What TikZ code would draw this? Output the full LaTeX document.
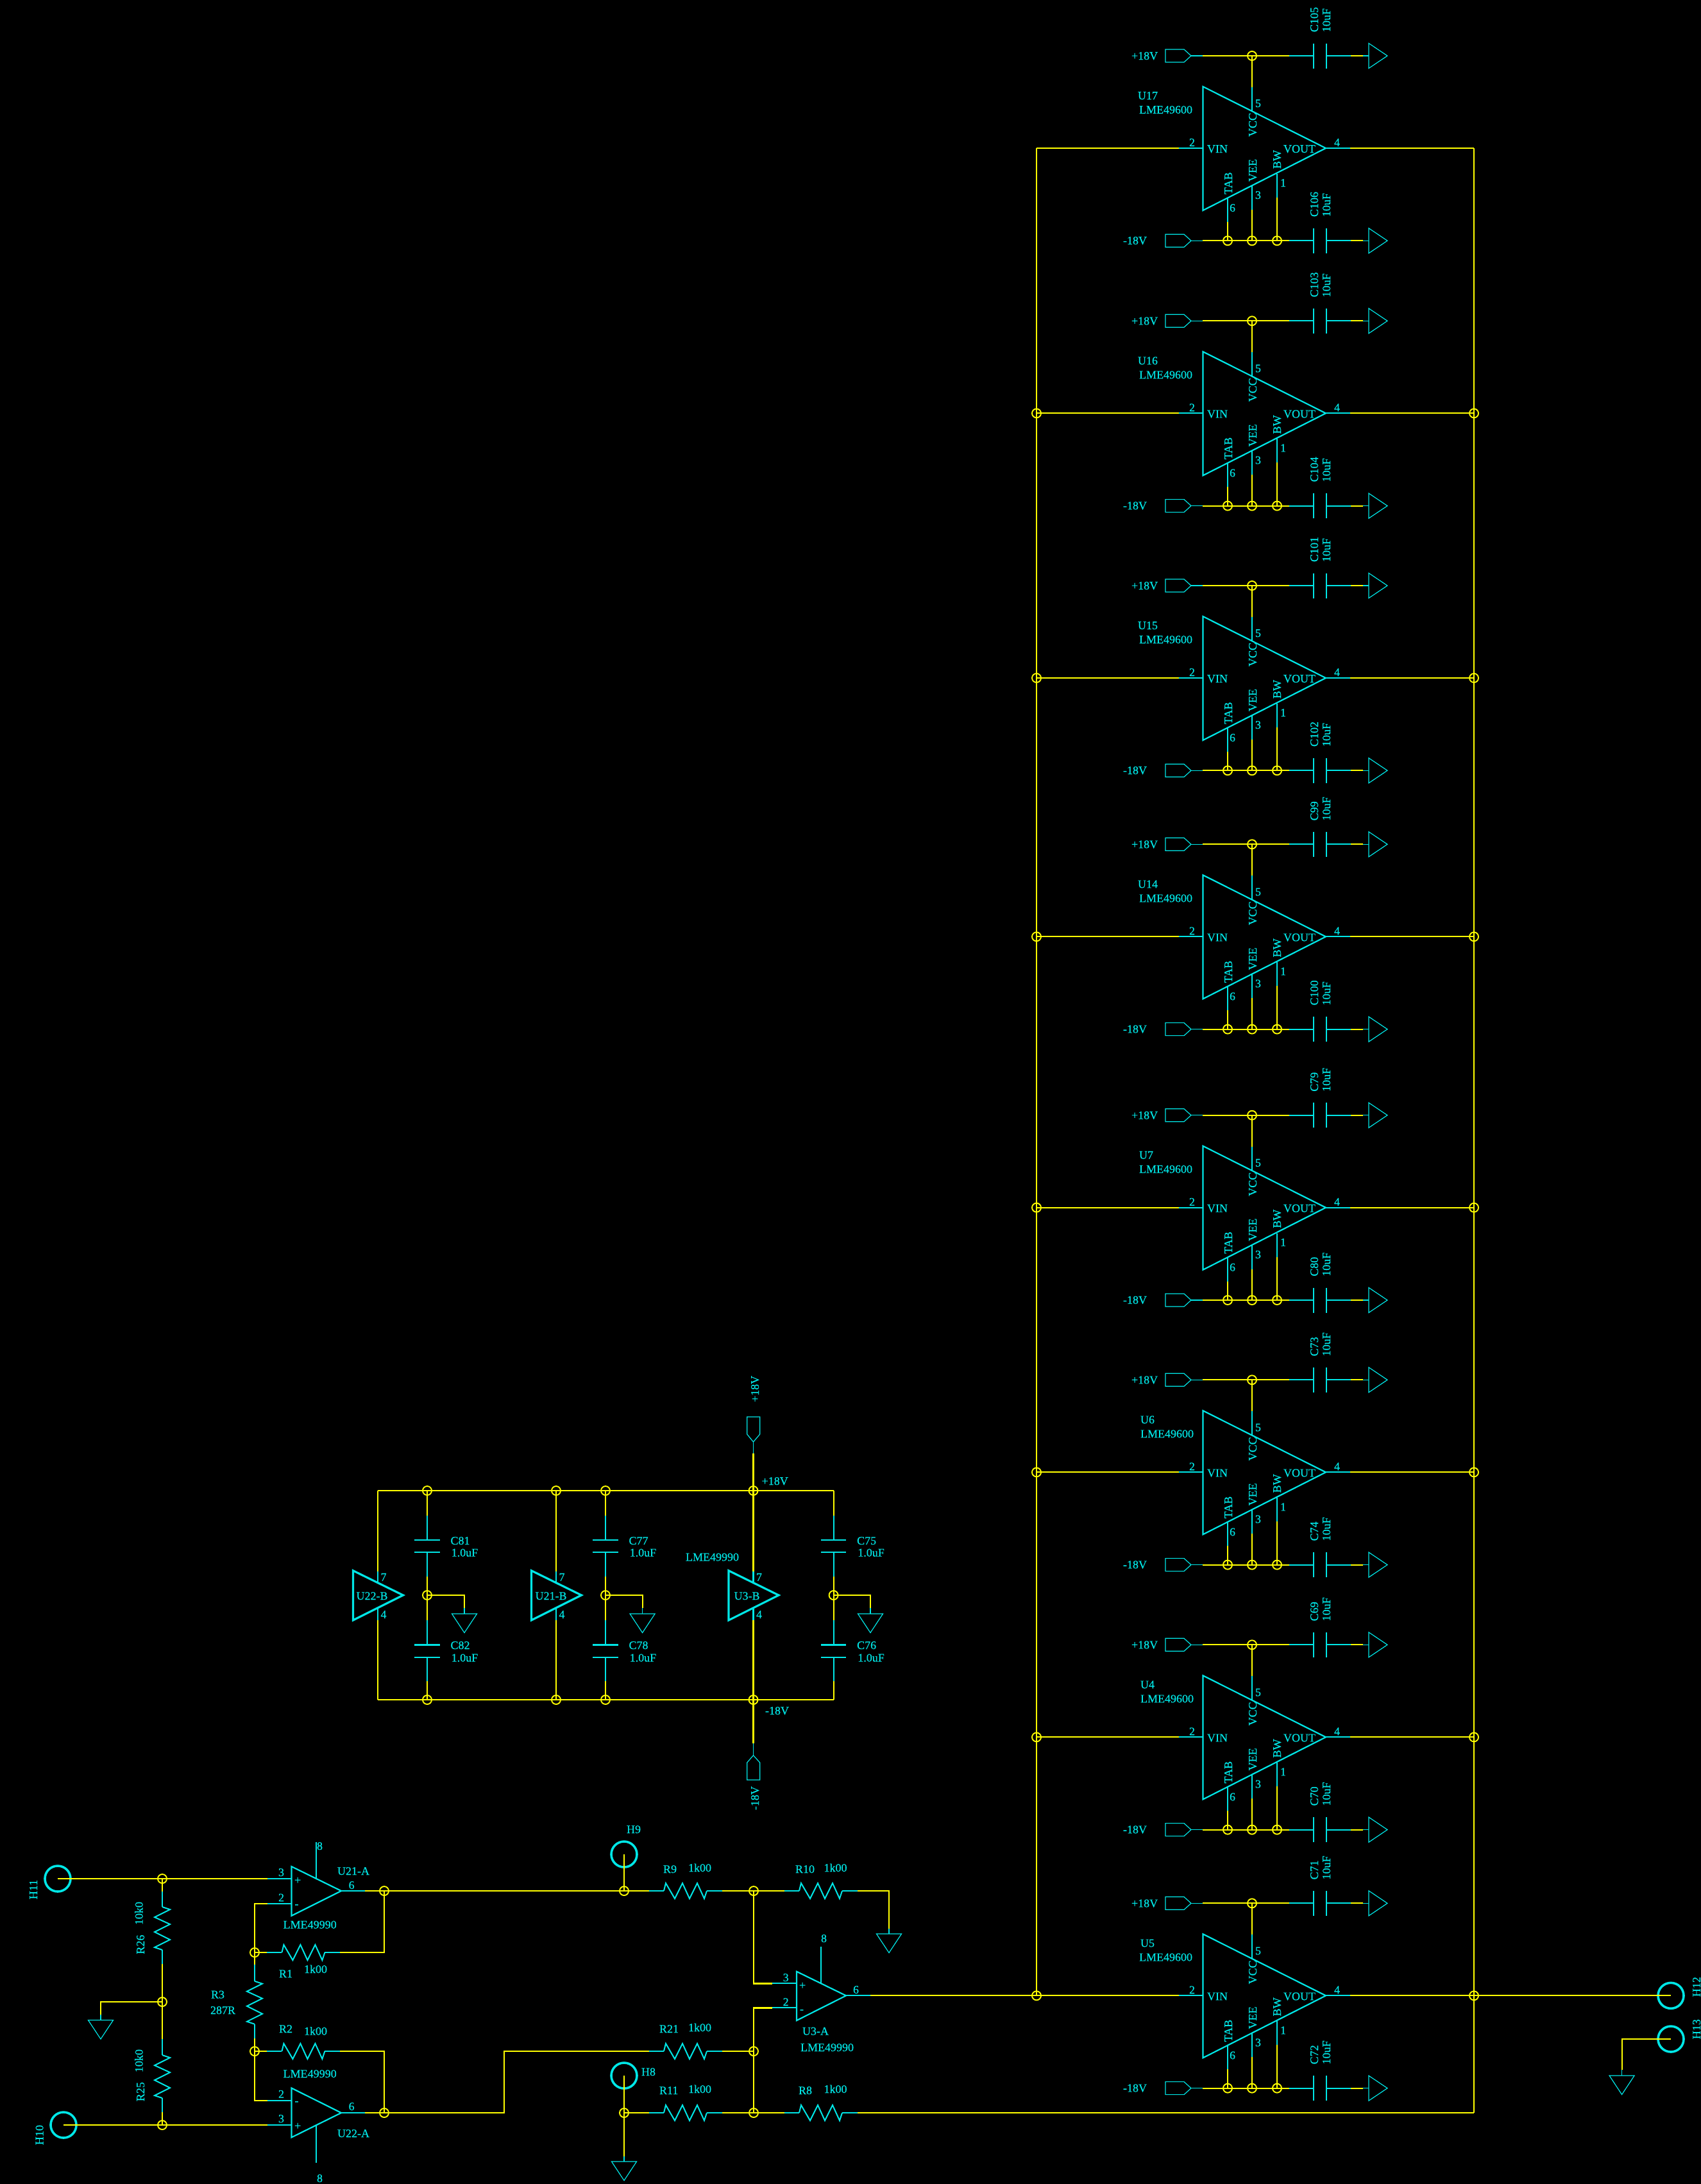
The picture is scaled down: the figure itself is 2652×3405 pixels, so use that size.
\documentclass[tikz,border=0pt]{standalone}
\usepackage{fontspec}
\setmainfont[FakeBold=0.35]{Liberation Serif}
\definecolor{cy}{HTML}{00E6E6}
\definecolor{yw}{HTML}{FFFF00}
\newcounter{tc}
\tikzset{
  txt/.style={text=cy,inner sep=0pt,outer sep=0pt,anchor=base west,font=\fontsize{18}{20}\selectfont},
  wire/.style={draw=yw,line width=2.2pt},
  lead/.style={draw=cy,line width=2.1pt},
  thinl/.style={draw=cy,line width=1.2pt},
  amp/.style={draw=cy,line width=2.2pt,line join=miter},
  ampb/.style={draw=cy,line width=3.2pt,line join=miter},
  hole/.style={circle,draw=cy,line width=3.6pt,minimum size=40pt,inner sep=0pt,outer sep=0pt},
  junc/.style={circle,draw=yw,line width=1.9pt,minimum size=14pt,inner sep=0pt,outer sep=0pt},
}
% text helpers
\newcommand\lbl[3]{\stepcounter{tc}\node[txt] (t\arabic{tc}) at (#1,#2) {#3};}
\newcommand\rlbl[3]{\stepcounter{tc}\node[txt,rotate=90] (t\arabic{tc}) at (#1,#2) {#3};}
% ground pointing down, apex 29.5 below (#1) where (#1) is top-bar centre
\newcommand\gndD[3]{\coordinate (#1) at (#2,#3);
  \draw[thinl] (#2-19.5,#3) -- (#2+19.5,#3) -- (#2,#3+29.5) -- cycle;}
% horizontal resistor
\newcommand\resH[3]{\coordinate (#1A) at (#2,#3);\coordinate (#1B) at (#2+67,#3);
  \draw[lead,line width=2pt] (#1A) -- (#2+3,#3-12) -- (#2+17,#3+12) -- (#2+29,#3-12) -- (#2+40,#3+12) -- (#2+52,#3-12) -- (#2+63,#3+12) -- (#1B);}
% vertical resistor
\newcommand\resV[3]{\coordinate (#1A) at (#2,#3);\coordinate (#1B) at (#2,#3+67);
  \draw[lead,line width=2pt] (#1A) -- (#2+12,#3+4) -- (#2-12,#3+16) -- (#2+12,#3+27) -- (#2-12,#3+39) -- (#2+12,#3+51) -- (#2-12,#3+63) -- (#1B);}
% horizontal resistor with its leads and yellow stubs
\newcommand\resWire[4]{% id, x of body, y, label is separate
  \resH{#1}{#2}{#3}
  \coordinate (#1L) at (#2-23,#3);\coordinate (#1R) at (#2+91,#3);
  \draw[lead] (#1L) -- (#1A) (#1B) -- (#1R);}
% supply rail of a power amp, y relative to scope
\newcommand\supplyrail[2]{% id, y
  \draw[thinl] (1817,#2-10) -- (1846,#2-10) -- (1857,#2) -- (1846,#2+10) -- (1817,#2+10) -- cycle;
  \coordinate (#1p) at (1857,#2);\coordinate (#1a) at (1875,#2);\coordinate (#1b) at (2010,#2);
  \coordinate (#1c) at (2048,#2);\coordinate (#1d) at (2068,#2);\coordinate (#1e) at (2106,#2);
  \coordinate (#1f) at (2125,#2);\coordinate (#1g) at (2134,#2);
  \draw[thinl] (#1p) -- (#1a);
  \draw[wire] (#1a) -- (#1b);
  \draw[lead] (#1b) -- (#1c);
  \draw[lead] (2048,#2-19.5) -- (2048,#2+19.5);
  \draw[lead] (2068,#2-19.5) -- (2068,#2+19.5);
  \draw[lead] (#1d) -- (#1e);
  \draw[wire] (#1e) -- (#1f);
  \draw[thinl] (#1f) -- (#1g);
  \draw[thinl] (2134,#2-19.5) -- (2163,#2) -- (2134,#2+19.5) -- cycle;
}
% power amplifier block
\newcommand\ampblock[7]{% id, Y, U name, Ctop, Cbot, x of U label
\begin{scope}[shift={(0,#2)}]
  \supplyrail{#1t}{-144}
  \supplyrail{#1b}{144.3}
  \coordinate (#1jv) at (1952,-144);
  \coordinate (#1j1) at (1914,144.3);\coordinate (#1j2) at (1952,144.3);\coordinate (#1j3) at (1991,144.3);
  \draw[amp] (1875.5,-96) -- (2067,0) -- (1875.5,97) -- cycle;
  \coordinate (#1L) at (1616,0);\coordinate (#1R) at (2298,0);
  \coordinate (#1il) at (1837.5,0);\coordinate (#1in) at (1875.5,0);
  \coordinate (#1ot) at (2067,0);\coordinate (#1ol) at (2105,0);
  \draw[wire] (#1L) -- (#1il);\draw[lead] (#1il) -- (#1in);
  \draw[lead] (#1ot) -- (#1ol);\draw[wire] (#1ol) -- (#1R);
  \draw[wire] (#1jv) -- (1952,-95);\draw[lead] (1952,-95) -- (1952,-57);
  \draw[lead] (1914,77) -- (1914,115);\draw[wire] (1914,115) -- (#1j1);
  \draw[lead] (1952,58) -- (1952,96);\draw[wire] (1952,96) -- (#1j2);
  \draw[lead] (1991,40) -- (1991,77);\draw[wire] (1991,77) -- (#1j3);
  \rlbl{1959}{-18}{VCC}\rlbl{1959}{52}{VEE}\rlbl{1997}{32}{BW}\rlbl{1921}{72}{TAB}
  \lbl{1882}{7}{VIN}\lbl{2001}{7}{VOUT}
  \lbl{1854}{-3}{2}\lbl{2080}{-3}{4}\lbl{1957}{-64}{5}\lbl{1996}{60}{1}\lbl{1957}{79}{3}\lbl{1917}{99}{6}
  \lbl{#6}{-76}{#3}\lbl{#7}{-54}{LME49600}
  \lbl{1764}{-138}{+18V}\lbl{1751}{150}{-18V}
  \rlbl{2055}{-181}{#4}\rlbl{2074}{-181}{10uF}
  \rlbl{2055}{107}{#5}\rlbl{2074}{107}{10uF}
\end{scope}}
% decoupling column: id, x, gnd x
\newcommand\decoup[7]{% id,x,gndx,Ctop,Cbot
  \coordinate (#1t) at (#2,2324);\coordinate (#1m) at (#2,2487);\coordinate (#1b) at (#2,2650);
  \draw[wire,line width=2pt] (#1t) -- (#2,2363);\draw[lead] (#2,2363) -- (#2,2401);
  \draw[lead] (#2-19.8,2401) -- (#2+19.8,2401);\draw[lead] (#2-19.8,2420) -- (#2+19.8,2420);
  \draw[lead] (#2,2420) -- (#2,2458);\draw[wire,line width=2pt] (#2,2458) -- (#1m) -- (#2,2525.5);
  \draw[lead] (#2,2525.5) -- (#2,2564.5);
  \draw[lead] (#2-19.8,2564.5) -- (#2+19.8,2564.5);\draw[lead] (#2-19.8,2583.6) -- (#2+19.8,2583.6);
  \draw[lead] (#2,2583.6) -- (#2,2621);\draw[wire,line width=2pt] (#2,2621) -- (#1b);
  \gndD{#1g}{#3}{2516}
  \draw[wire] (#1m) -| (#3,2507);\draw[thinl] (#3,2507) -- (#1g);
  \lbl{#2+36.5}{2408}{#4}\lbl{#2+37.7}{2426.6}{1.0uF}
  \lbl{#2+36.5}{2571}{#5}\lbl{#2+37.7}{2590.5}{1.0uF}
}
% second op-amp section: id, wire x, name, name x
\newcommand\opB[4]{%
  \draw[ampb] (#2-38.5,2448.7) -- (#2+39.5,2487) -- (#2-38.5,2526) -- cycle;
  \draw[wire] (#1top) -- (#2,2450);\draw[lead] (#2,2450) -- (#2,2467);
  \draw[lead] (#2,2507) -- (#2,2525.5);\draw[wire] (#2,2525.5) -- (#1bot);
  \lbl{#2+4.5}{2464.7}{7}\lbl{#2+4.5}{2523}{4}
  \lbl{#4}{2494}{#3}
}
\begin{document}
\begin{tikzpicture}[x=1pt,y=-1pt]
\fill[black] (0,0) rectangle (2652,3405);
\useasboundingbox (0,0) rectangle (2652,3405);

% ---- power amplifiers
\ampblock{ua}{231}{U17}{C105}{C106}{1774}{1776}
\ampblock{ub}{644.3}{U16}{C103}{C104}{1774}{1776}
\ampblock{uc}{1057}{U15}{C101}{C102}{1774}{1776}
\ampblock{ud}{1460.3}{U14}{C99}{C100}{1774}{1776}
\ampblock{ue}{1882.7}{U7}{C79}{C80}{1776}{1776}
\ampblock{uf}{2295.3}{U6}{C73}{C74}{1778}{1778}
\ampblock{ug}{2708.3}{U4}{C69}{C70}{1778}{1778}
\ampblock{uh}{3111.3}{U5}{C71}{C72}{1778}{1776}
\coordinate (cornerR) at (2298,3294);
\draw[wire] (uaL) -- (uhL);
\draw[wire] (uaR) -- (cornerR);

% ---- outputs
\node[hole] (h12) at (2605,3111.3) {};
\node[hole] (h13) at (2605,3179) {};
\rlbl{2651}{3113}{H12}\rlbl{2651}{3179}{H13}
\draw[wire] (uhR) -- (h12.center);
\gndD{g13}{2528.6}{3236}
\draw[wire] (h13.center) -| (2528.6,3227);\draw[thinl] (2528.6,3227) -- (g13);

% ---- supply section
\coordinate (railTL) at (589,2324);\coordinate (railTR) at (1299.6,2324);
\coordinate (railBL) at (589,2650);\coordinate (railBR) at (1299.6,2650);
\draw[wire] (railTL) -- (railTR);\draw[wire] (railBL) -- (railBR);
\coordinate (u22top) at (589,2324);\coordinate (u22bot) at (589,2650);
\coordinate (u21top) at (867,2324);\coordinate (u21bot) at (867,2650);
\coordinate (u3top) at (1174.5,2324);\coordinate (u3bot) at (1174.5,2650);
\decoup{da}{666}{724}{C81}{C82}{}{}
\decoup{db}{944}{1001.6}{C77}{C78}{}{}
\decoup{dc}{1299.6}{1357}{C75}{C76}{}{}
\opB{u22}{589}{U22-B}{555.6}
\opB{u21}{867}{U21-B}{834.6}
\opB{u3}{1174.5}{U3-B}{1144.6}
\lbl{1069}{2433.5}{LME49990}
\draw[thinl] (1164.7,2209) -- (1184.7,2209) -- (1184.7,2236) -- (1174.5,2248) -- (1164.7,2236) -- cycle;
\coordinate (pp) at (1174.5,2248);\coordinate (ppw) at (1174.5,2266);
\draw[thinl] (pp) -- (ppw);\draw[wire] (ppw) -- (u3top);
\draw[thinl] (1164.7,2775) -- (1184.7,2775) -- (1184.7,2748) -- (1174.5,2736.7) -- (1164.7,2748) -- cycle;
\coordinate (pn) at (1174.5,2736.7);\coordinate (pnw) at (1174.5,2718);
\draw[thinl] (pn) -- (pnw);\draw[wire] (pnw) -- (u3bot);
\rlbl{1183}{2186}{+18V}\rlbl{1183}{2822}{-18V}
\lbl{1187.6}{2315}{+18V}\lbl{1193}{2673}{-18V}

% ---- input stage coordinates
\coordinate (jin1) at (253,2929);\coordinate (jin2) at (253,3313);\coordinate (jmid) at (253,3121);
\coordinate (jfb1) at (397,3044);\coordinate (jfb2) at (397,3198);
\coordinate (jo1) at (599,2948);\coordinate (jo2) at (599,3294);
\coordinate (jh9) at (973,2948);\coordinate (jh8) at (973,3294);
\coordinate (jd1) at (1175,2948);\coordinate (jd2) at (1175,3198);\coordinate (jd3) at (1175,3294);
\node[hole] (h11) at (90,2929) {};
\node[hole] (h10) at (99,3313) {};
\node[hole] (h9) at (973,2891) {};
\node[hole] (h8) at (973,3236) {};
\rlbl{58}{2961}{H11}\rlbl{67.5}{3344}{H10}
\lbl{977}{2858}{H9}\lbl{1000}{3236}{H8}

% divider
\draw[wire] (h11.center) -- (417,2929);\draw[lead] (417,2929) -- (454.5,2929);
\draw[wire] (h10.center) -- (417,3313);\draw[lead] (417,3313) -- (454.5,3313);
\draw[wire] (jin1) -- (253,2949);\draw[lead] (253,2949) -- (253,2973);
\resV{r26}{253}{2973}
\draw[lead] (r26B) -- (253,3062);\draw[wire] (253,3062) -- (jmid) -- (253,3179);
\draw[lead] (253,3179) -- (253,3204);
\resV{r25}{253}{3204}
\draw[lead] (r25B) -- (253,3293);\draw[wire] (253,3293) -- (jin2);
\gndD{gm}{157}{3149.5}
\draw[wire] (jmid) -| (157,3141);\draw[thinl] (157,3141) -- (gm);
\rlbl{225}{3046.5}{R26}\rlbl{222.7}{3001}{10k0}
\rlbl{225}{3276}{R25}\rlbl{222.7}{3231}{10k0}

% U21-A
\draw[amp] (454.5,2910) -- (532,2948) -- (454.5,2986.8) -- cycle;
\draw[lead] (493,2871.5) -- (493,2929);
\lbl{459}{2937}{+}\lbl{459.5}{2974}{-}
\lbl{434}{2925}{3}\lbl{434}{2964.4}{2}\lbl{494}{2884}{8}\lbl{543.6}{2945}{6}
\lbl{526}{2923}{U21-A}\lbl{441.7}{3006.6}{LME49990}
\draw[lead] (454.5,2967.8) -- (417,2967.8);
\draw[wire] (417,2967.8) -| (jfb1);
\draw[lead] (532,2948) -- (569,2948);
\draw[wire] (569,2948) -- (jo1) -- (jh9);
% U22-A
\draw[amp] (454.5,3255.4) -- (532,3294) -- (454.5,3332.3) -- cycle;
\draw[lead] (493,3313) -- (493,3371.5);
\lbl{459}{3320}{+}\lbl{459.5}{3281}{-}
\lbl{434}{3270.7}{2}\lbl{434}{3309}{3}\lbl{494}{3402}{8}\lbl{543.6}{3290}{6}
\lbl{526}{3332}{U22-A}\lbl{441.7}{3239}{LME49990}
\draw[lead] (454.5,3275) -- (417,3275);
\draw[wire] (417,3275) -| (jfb2);
\draw[lead] (532,3294) -- (569,3294);
\draw[wire] (569,3294) -- (jo2);
% R1, R2, R3
\resWire{r1}{439.4}{3044}{}
\draw[wire] (jfb1) -- (r1L);\draw[wire] (r1R) -| (jo1);
\lbl{435}{3083}{R1}\lbl{474}{3076}{1k00}
\resWire{r2}{439.4}{3198}{}
\draw[wire] (jfb2) -- (r2L);\draw[wire] (r2R) -| (jo2);
\lbl{435}{3169}{R2}\lbl{474}{3172.6}{1k00}
\draw[wire] (jfb1) -- (397,3063);\draw[lead] (397,3063) -- (397,3088.7);
\resV{r3}{397}{3088.7}
\draw[lead] (r3B) -- (397,3178);\draw[wire] (397,3178) -- (jfb2);
\lbl{329}{3115.5}{R3}\lbl{328}{3140}{287R}

% difference stage
\resWire{r9}{1035}{2948}{}
\draw[wire] (jh9) -- (r9L);\draw[wire] (r9R) -- (jd1);
\lbl{1034}{2920}{R9}\lbl{1073}{2918}{1k00}
\resWire{r10}{1246}{2948}{}
\draw[wire] (jd1) -- (r10L);
\gndD{g10}{1386}{3015}
\draw[wire] (r10R) -| (1386,3006.6);\draw[lead] (1386,3006.6) -- (g10);
\lbl{1240}{2920}{R10}\lbl{1284.5}{2918}{1k00}
\resWire{r21}{1035}{3198}{}
\draw[wire] (jo2) -| (786,3198) -- (r21L);\draw[wire] (r21R) -- (jd2);
\lbl{1028}{3169}{R21}\lbl{1073}{3167}{1k00}
\resWire{r11}{1035}{3294}{}
\draw[wire] (jh8) -- (r11L);\draw[wire] (r11R) -- (jd3);
\lbl{1028}{3265}{R11}\lbl{1073}{3263}{1k00}
\resWire{r8}{1246}{3294}{}
\draw[wire] (jd3) -- (r8L);\draw[wire] (r8R) -- (cornerR);
\lbl{1245}{3265}{R8}\lbl{1284.5}{3263}{1k00}
\draw[wire] (h9.center) -- (jh9);
\gndD{g8}{973}{3370}
\draw[wire] (h8.center) -- (jh8) -- (973,3362);\draw[lead] (973,3362) -- (g8);
% U3-A
\draw[amp] (1242,3073.7) -- (1319,3111.3) -- (1242,3150) -- cycle;
\draw[lead,line width=1.6pt] (1280,3034.6) -- (1280,3092);
\lbl{1246}{3101}{+}\lbl{1247}{3138}{-}
\lbl{1220.7}{3089}{3}\lbl{1220.7}{3127}{2}\lbl{1280}{3028}{8}\lbl{1330}{3108}{6}
\lbl{1251}{3172.6}{U3-A}\lbl{1248}{3198}{LME49990}
\draw[wire] (jd1) |- (1204,3092.4);\draw[lead] (1204,3092.4) -- (1242,3092.4);
\draw[wire] (jd3) |- (1204,3130.4);\draw[lead] (1204,3130.4) -- (1242,3130.4);
\draw[lead] (1319,3111.3) -- (1356.6,3111.3);
\draw[wire] (1356.6,3111.3) -- (uhL);

% ---- junction marks
\foreach \j in {jin1,jin2,jmid,jfb1,jfb2,jo1,jo2,jh9,jh8,jd1,jd2,jd3,
  dat,dam,dab,dbt,dbm,dbb,dcm,u21top,u21bot,u3top,u3bot,
  ubL,ucL,udL,ueL,ufL,ugL,uhL,ubR,ucR,udR,ueR,ufR,ugR,uhR}
  {\node[junc] (m\j) at (\j) {};}
\foreach \u in {ua,ub,uc,ud,ue,uf,ug,uh}
  {\foreach \k in {jv,j1,j2,j3}{\node[junc] (m\u\k) at (\u\k) {};}}
\end{tikzpicture}
\end{document}
